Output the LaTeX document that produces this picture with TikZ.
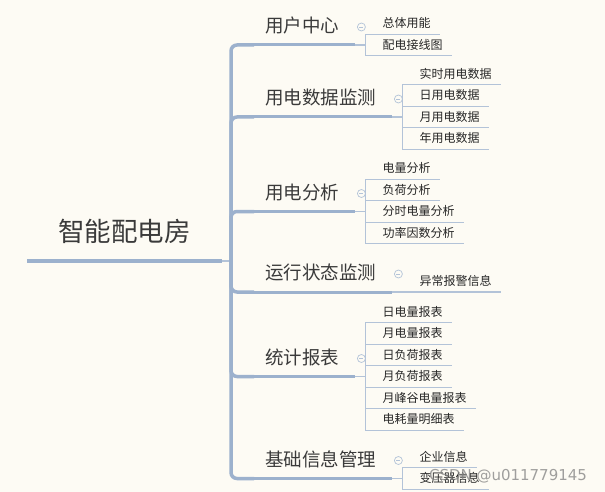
\documentclass[tikz,border=0pt]{standalone}
\usepackage{fontspec}
\setmainfont{Noto Sans CJK SC}
\newfontfamily\marcafont{DejaVu Sans}
\usepackage{xcolor}
\usepackage{tikz}
\usetikzlibrary{
    positioning,
    calc
}
\definecolor{fondo}{HTML}{FDFBF4}
\definecolor{rama}{HTML}{9CB1CD}
\definecolor{lineahoja}{HTML}{B3C3D8}
\definecolor{texto}{HTML}{3A3A3A}

\begin{document}
\begin{tikzpicture}[
    x=1pt, y=-1pt,
    raiz/.style={anchor=south west, minimum width=195pt, inner xsep=0pt, inner ysep=15pt, text depth=4pt, font=\fontsize{26.5}{28}\selectfont, text=texto},
    tema/.style={anchor=south west, inner xsep=11pt, inner ysep=9pt, text depth=3pt, font=\fontsize{18.5}{20}\selectfont, text=texto, execute at end node={\hspace*{5pt}}},
    hoja/.style={anchor=south west, inner xsep=9pt, inner ysep=4pt, text depth=2.5pt, font=\fontsize{12}{14}\selectfont, text=black!85, execute at begin node={\hspace*{8pt}}},
    raya raiz/.style={draw=rama, line width=4.5pt},
    raya tema/.style={draw=rama, line width=3pt},
    tronco/.style={draw=rama, line width=3.5pt, rounded corners=6pt},
    raya hoja/.style={draw=lineahoja, line width=1.2pt},
    plegar/.style={circle, draw=lineahoja, line width=0.7pt, minimum size=8pt, inner sep=0pt,
        path picture={\draw[lineahoja, line width=0.7pt] ([xshift=2pt]path picture bounding box.west) -- ([xshift=-2pt]path picture bounding box.east);}},
    marca/.style={font=\marcafont\fontsize{15}{16}\selectfont, text=black!50, text opacity=0.75}
]

% Fondo
\fill[fondo] (0,0) rectangle (605,492);
\useasboundingbox (0,0) rectangle (605,492);

% Raiz
\node[raiz] (raiz) at (27,261) {智能配电房};
\draw[raya raiz] (raiz.south west) -- (raiz.south east);
\coordinate (centro) at (231,261);
\draw[raya hoja, line width=1.5pt] (raiz.south east) -- (centro);

% Temas y hojas
\foreach \nombre/\y/\txt/\n/\hojas in {
    t1/45/用户中心/2/{总体用能,配电接线图},
    t2/117/用电数据监测/4/{实时用电数据,日用电数据,月用电数据,年用电数据},
    t3/211.5/用电分析/4/{电量分析,负荷分析,分时电量分析,功率因数分析},
    t4/292/运行状态监测/1/{异常报警信息},
    t5/376.5/统计报表/6/{日电量报表,月电量报表,日负荷报表,月负荷报表,月峰谷电量报表,电耗量明细表},
    t6/478.5/基础信息管理/2/{企业信息,变压器信息}} {
    \node[tema] (\nombre) at (254,\y) {\txt};
    \draw[tronco] (centro) |- (\nombre.south west);
    \draw[raya tema] (\nombre.south west) -- (\nombre.south east);
    \node[plegar] (p-\nombre) at ($(\nombre.south east)+(6,-18)$) {};
    \foreach \h [count=\i] in \hojas {
        \node[hoja] (\nombre-\i) at ($(\nombre.south east)+(10,{(\i-(\n+1)/2)*21.5})$) {\h};
        \draw[raya hoja] (\nombre-\i.south west) -- (\nombre-\i.south east);
    }
    \draw[raya hoja] (\nombre.south east) -- (\nombre.south east -| \nombre-1.south west);
    \draw[raya hoja] (\nombre-1.south west) -- (\nombre-\n.south west);
}

% Marca de agua
\node[marca] (marca) at (508,476) {CSDN @u011779145};

\end{tikzpicture}
\end{document}
